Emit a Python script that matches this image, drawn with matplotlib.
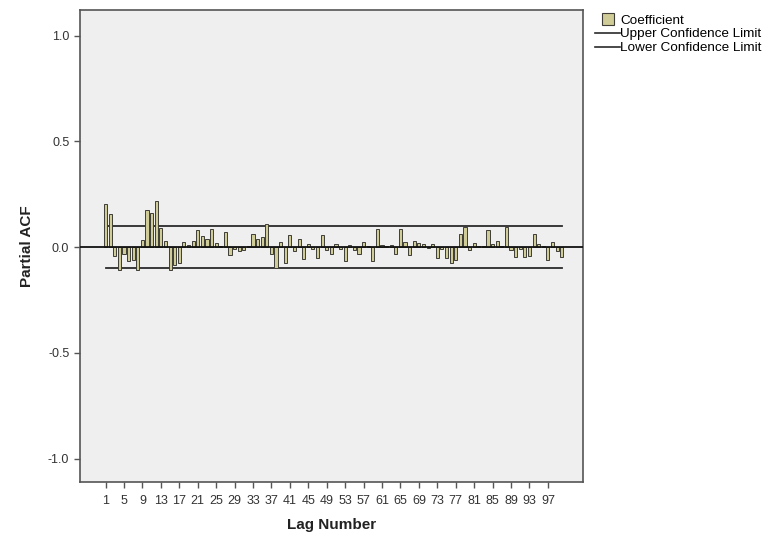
import numpy as np
import matplotlib
matplotlib.use('Agg')
import matplotlib.pyplot as plt
from matplotlib.lines import Line2D

plt.rcParams['font.family'] = ['Liberation Sans', 'DejaVu Sans']

# Lags 1..100 and partial autocorrelation coefficients
lags = np.arange(1, 101)
pacf = [
    0.205, 0.155, -0.04, -0.11, -0.03, -0.065, -0.06, -0.11, 0.035, 0.175,
    0.16, 0.22, 0.09, 0.03, -0.11, -0.085, -0.075, 0.025, 0.01, 0.03,
    0.08, 0.055, 0.04, 0.088, 0.02, 0.005, 0.07, -0.035, -0.01, -0.02,
    -0.015, 0.005, 0.06, 0.04, 0.05, 0.11, -0.03, -0.10, 0.025, -0.077,
    0.058, -0.02, 0.04, -0.055, 0.015, -0.01, -0.05, 0.058, -0.015, -0.03,
    0.015, -0.01, -0.065, 0.01, -0.015, -0.03, 0.025, 0.005, -0.067, 0.088,
    0.01, 0.005, 0.012, -0.03, 0.085, 0.025, -0.035, 0.027, 0.02, 0.015,
    -0.005, 0.015, -0.05, -0.01, -0.05, -0.077, -0.06, 0.06, 0.095, -0.015,
    0.02, 0.008, 0.005, 0.08, 0.015, 0.03, 0.005, 0.095, -0.015, -0.045,
    -0.01, -0.045, -0.04, 0.06, 0.015, 0.005, -0.06, 0.025, -0.02, -0.045,
]
upper_limit = 0.098
lower_limit = -0.098

xticks = list(range(1, 101, 4))
yticks = [-1.0, -0.5, 0.0, 0.5, 1.0]

fig = plt.figure(figsize=(7.67, 5.38), dpi=100)
ax = fig.add_axes([0.104, 0.104, 0.656, 0.877])
ax.set_facecolor('#efefef')

ax.bar(lags, pacf, width=0.68, color='#cfcc98', edgecolor='#3e3e36', linewidth=0.7, zorder=3)
ax.plot([lags[0], lags[-1]], [upper_limit, upper_limit], color='#2a2a2a', lw=1.3, zorder=2)
ax.plot([lags[0], lags[-1]], [lower_limit, lower_limit], color='#2a2a2a', lw=1.3, zorder=2)
ax.axhline(0, color='#111111', lw=1.3, zorder=4)

ax.set_xlim(-4.6, 104.6)
ax.set_ylim(-1.11, 1.12)
ax.set_xticks(xticks)
ax.set_xticklabels([str(t) for t in xticks], fontsize=9, color='#333333')
ax.set_yticks(yticks)
ax.set_yticklabels(['%.1f' % t for t in yticks], fontsize=9, color='#333333')
ax.tick_params(axis='both', direction='out', length=4, width=1, color='#555555')
ax.tick_params(axis='x', pad=5)
for s in ax.spines.values():
    s.set_color('#555555')
    s.set_linewidth(1.2)

ax.set_xlabel('Lag Number', fontsize=11, fontweight='bold', labelpad=8, color='#222222')
ax.set_ylabel('Partial ACF', fontsize=11, fontweight='bold', labelpad=10, color='#222222')

handles = [
    Line2D([], [], marker='s', markersize=8, markerfacecolor='#cfcc98',
           markeredgecolor='#3e3e36', markeredgewidth=0.8, linestyle='none'),
    Line2D([0], [0], color='#2a2a2a', lw=1.2),
    Line2D([0], [0], color='#2a2a2a', lw=1.2),
]
labels = ['Coefficient', 'Upper Confidence Limit', 'Lower Confidence Limit']
fig.legend(handles, labels, loc='upper left', bbox_to_anchor=(0.764, 0.991),
           frameon=False, fontsize=9.7, handlelength=1.8, handletextpad=0.05,
           labelspacing=0.1, borderpad=0.2)

fig.savefig('out.png', dpi=100)
